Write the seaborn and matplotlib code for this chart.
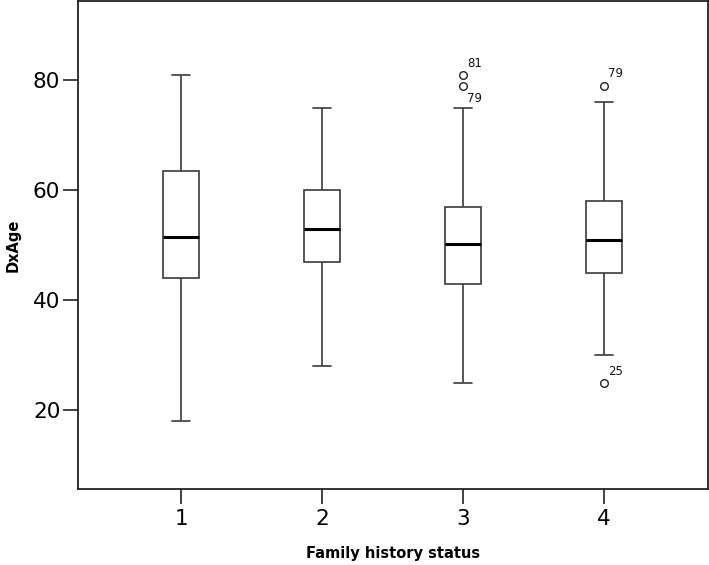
"""
Boxplot de DxAge por Family history status (estilo SPSS).
"""
import matplotlib
matplotlib.use("Agg")
import matplotlib.pyplot as plt
import pandas as pd
import seaborn as sns

# resumo, um valor por grupo
grupos = ["1", "2", "3", "4"]
bigode_inf = [18, 28, 25, 30]
q1 = [44, 47, 43, 45]
mediana = [51.5, 53, 50.2, 51]
q3 = [63.5, 60, 57, 58]
bigode_sup = [81, 75, 75, 76]
outliers_inf = [[], [], [], [25]]
outliers_sup = [[], [], [79, 81], [79]]

# rótulos (número do caso) dos outliers: grupo, valor, texto, deslocamento em pontos
rotulos_grupo = ["3", "3", "4", "4"]
rotulos_valor = [81, 79, 79, 25]
rotulos_texto = ["81", "79", "79", "25"]
rotulos_dy = [8, -9, 9, 8]


def amostra(lo, a, m, b, hi, out_lo, out_hi, k=3):
    # 4k+1 pontos: os quartis caem exatamente nos índices k, 2k e 3k
    abaixo = sorted(out_lo + [lo])
    abaixo = abaixo + [lo] * (k - len(abaixo))
    acima = sorted([hi] + out_hi)
    acima = [hi] * (k - len(acima)) + acima
    return abaixo + [a] + [m] * (k - 1) + [m] + [m] * (k - 1) + [b] + acima


linhas = []
for i, g in enumerate(grupos):
    for v in amostra(bigode_inf[i], q1[i], mediana[i], q3[i], bigode_sup[i],
                     outliers_inf[i], outliers_sup[i]):
        linhas.append({"Family history status": g, "DxAge": v})
df = pd.DataFrame(linhas)

sns.set_style("white")
plt.rcParams["font.family"] = ["DejaVu Sans"]
plt.rcParams["text.color"] = "black"
plt.rcParams["axes.labelcolor"] = "black"
plt.rcParams["xtick.labelcolor"] = "black"
plt.rcParams["ytick.labelcolor"] = "black"

fig = plt.figure(figsize=(7.09, 5.65), dpi=100)
ax = fig.add_axes([0.1096, 0.1345, 0.8890, 0.8635])

cor = "#3a3a3a"
sns.boxplot(data=df, x="Family history status", y="DxAge", order=grupos,
            color="white", linecolor=cor, linewidth=1.2, width=0.255, whis=1.5,
            medianprops={"color": "black", "linewidth": 2.2},
            flierprops={"marker": "o", "markersize": 5.5, "markerfacecolor": "white",
                        "markeredgecolor": "#222222", "markeredgewidth": 1.0},
            ax=ax)

for g, v, t, dy in zip(rotulos_grupo, rotulos_valor, rotulos_texto, rotulos_dy):
    ax.annotate(t, xy=(grupos.index(g), v), xytext=(3, dy), textcoords="offset points",
                ha="left", va="center", fontsize=8.5, color="#111111")

ax.set_xlim(-0.735, 3.74)
ax.set_ylim(5.7, 94.4)
ax.set_yticks([20, 40, 60, 80])

for s in ax.spines.values():
    s.set_visible(True)
    s.set_color("#222222")
    s.set_linewidth(1.3)

ax.tick_params(axis="both", direction="out", length=10.5, width=1.2, color="#222222",
               labelsize=15.5, left=True, bottom=True)
ax.tick_params(axis="x", pad=4)
ax.tick_params(axis="y", pad=2)
ax.set_xlabel("Family history status", fontsize=10.5, fontweight="bold", labelpad=12)
ax.set_ylabel("DxAge", fontsize=10.5, fontweight="bold", labelpad=9)

fig.savefig("out.png", dpi=100)
plt.close(fig)
